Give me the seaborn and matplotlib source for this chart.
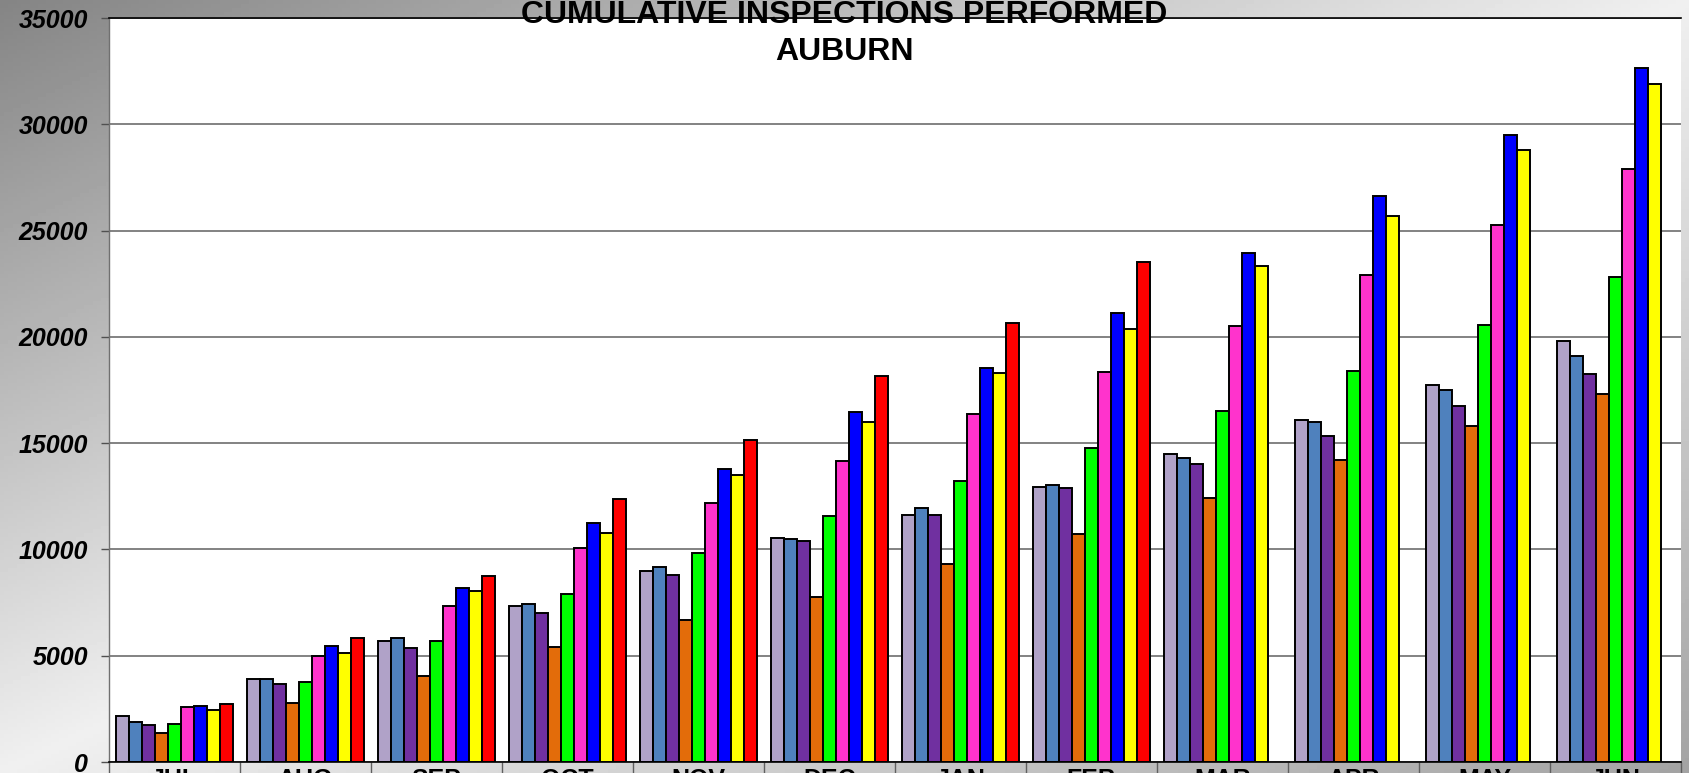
import numpy as np
import pandas as pd
import matplotlib
matplotlib.use("Agg")
import matplotlib.pyplot as plt
import seaborn as sns
from matplotlib.ticker import FixedLocator

months = ["JUL", "AUG", "SEP", "OCT", "NOV", "DEC", "JAN", "FEB", "MAR", "APR", "MAY", "JUN"]
series = ["Series 1", "Series 2", "Series 3", "Series 4", "Series 5",
          "Series 6", "Series 7", "Series 8", "Series 9"]
colors = ["#B0A2C8", "#4F81BD", "#7030A0", "#E36C0A", "#00FF00",
          "#FF33CC", "#0000FF", "#FFFF00", "#FF0000"]

s1 = [2180, 3900, 5670, 7340, 8965, 10535, 11640, 12950, 14480, 16100, 17720, 19800]
s2 = [1870, 3900, 5830, 7450, 9170, 10500, 11960, 13050, 14300, 16000, 17520, 19100]
s3 = [1720, 3650, 5370, 6990, 8815, 10380, 11600, 12900, 14030, 15350, 16760, 18250]
s4 = [1370, 2790, 4050, 5420, 6690, 7750, 9300, 10720, 12440, 14230, 15800, 17300]
s5 = [1770, 3750, 5670, 7900, 9830, 11550, 13210, 14750, 16510, 18390, 20560, 22800]
s6 = [2580, 5010, 7340, 10080, 12200, 14180, 16360, 18370, 20520, 22890, 25250, 27900]
s7 = [2630, 5470, 8200, 11250, 13780, 16460, 18550, 21120, 23950, 26640, 29480, 32650]
s8 = [2430, 5115, 8050, 10790, 13480, 16010, 18310, 20390, 23350, 25680, 28770, 31900]
s9 = [2735, 5825, 8760, 12360, 15140, 18150, 20670, 23500, np.nan, np.nan, np.nan, np.nan]

yticks = [0, 5000, 10000, 15000, 20000, 25000, 30000, 35000]
title_line1 = "CUMULATIVE INSPECTIONS PERFORMED"
title_line2 = "AUBURN"

all_series = [s1, s2, s3, s4, s5, s6, s7, s8, s9]
rows = []
for name, vals in zip(series, all_series):
    for m, v in zip(months, vals):
        rows.append({"month": m, "series": name, "value": v})
df = pd.DataFrame(rows).dropna()

plt.rcParams["font.family"] = ["Liberation Sans", "DejaVu Sans"]

W, H = 1689, 773
fig = plt.figure(figsize=(W / 100, H / 100), dpi=100)

# gradient background
gx = np.linspace(0, 1, 400)
gy = np.linspace(0, 1, 200)
X, Y = np.meshgrid(gx, gy)
d = X + Y - 1
I = np.where(d < 0, 0.94 - 0.42 * np.abs(d), 0.94 - 0.30 * d)
bg = fig.add_axes([0, 0, 1, 1], zorder=-10)
bg.imshow(I, cmap="gray", vmin=0, vmax=1, aspect="auto", extent=[0, 1, 0, 1], origin="upper")
bg.axis("off")

ax = fig.add_axes([109 / W, 11 / H, (1681 - 109) / W, (762 - 18) / H])
ax.set_facecolor("white")

sns.barplot(data=df, x="month", y="value", hue="series", order=months, hue_order=series,
            palette=colors, saturation=1, width=0.9, edgecolor="black", linewidth=1.4,
            legend=False, ax=ax, errorbar=None)

ax.set_xlim(-0.5, len(months) - 0.5)
ax.set_ylim(0, 35000)
ax.set_yticks(yticks)
ax.set_yticklabels([str(t) for t in yticks], fontsize=18, fontweight="bold", fontstyle="italic")
ax.tick_params(axis="y", length=6, width=1.0, color="#505050", pad=9)

ax.set_xticks(range(len(months)))
ax.set_xticklabels(months, fontsize=18, fontweight="bold")
ax.tick_params(axis="x", which="major", length=0, pad=4)
ax.xaxis.set_minor_locator(FixedLocator(np.arange(-0.5, len(months), 1.0)))
ax.tick_params(axis="x", which="minor", length=14, width=1.0, color="#606060")

ax.set_xlabel("")
ax.set_ylabel("")
ax.grid(axis="y", color="#606060", linewidth=1.1)
ax.grid(axis="x", visible=False)
ax.set_axisbelow(True)

ax.spines["right"].set_visible(False)
ax.spines["left"].set_color("#707070")
ax.spines["left"].set_linewidth(1.0)
ax.spines["top"].set_color("black")
ax.spines["top"].set_linewidth(1.2)
ax.spines["bottom"].set_color("black")
ax.spines["bottom"].set_linewidth(1.2)

fig.text(0.5, 1 - 23 / H, title_line1, ha="center", va="baseline", fontsize=23, fontweight="bold")
fig.text(0.5, 1 - 60 / H, title_line2, ha="center", va="baseline", fontsize=23, fontweight="bold")

fig.savefig("out.png", dpi=100)
